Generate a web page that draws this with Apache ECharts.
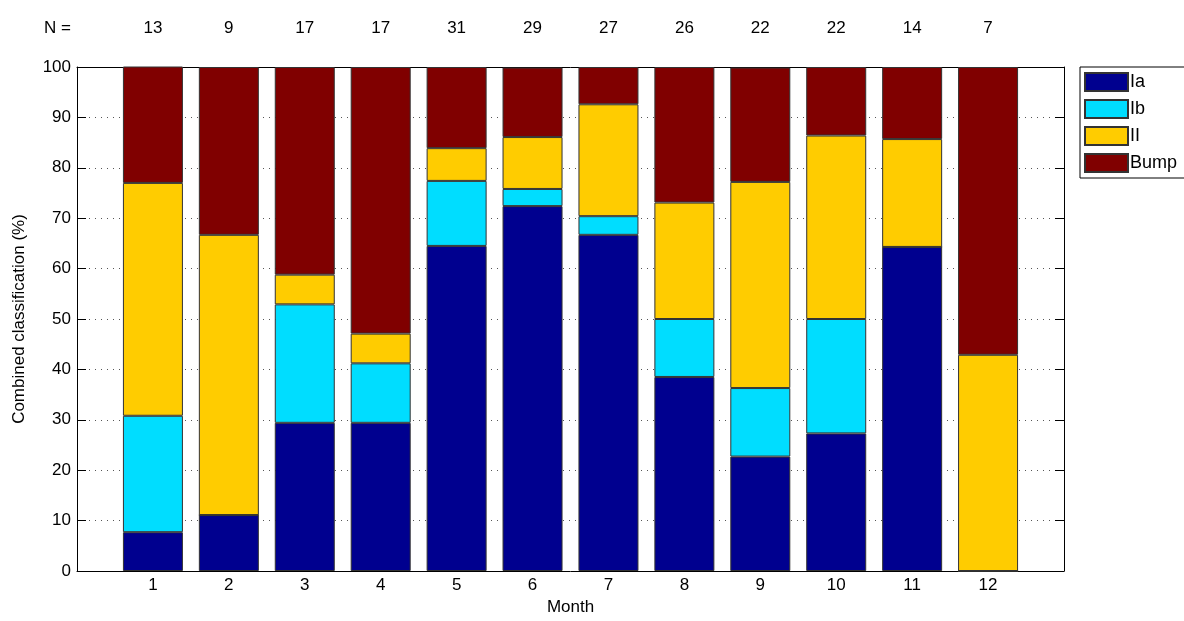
<!DOCTYPE html>
<html>
<head>
<meta charset="utf-8">
<script src="https://cdn.jsdelivr.net/npm/echarts@6/dist/echarts.min.js"></script>
<style>html,body{margin:0;padding:0;background:#fff;overflow:hidden;}#c{width:1184px;height:621px;}</style>
</head>
<body>
<div id="c"></div>
<script>
const months = [1,2,3,4,5,6,7,8,9,10,11,12];
const nCounts = [13,9,17,17,31,29,27,26,22,22,14,7];
const seriesNames = ['Ia','Ib','II','Bump'];
const ia   = [7.7, 11.1, 29.4, 29.4, 64.5, 72.4, 66.7, 38.5, 22.7, 27.3, 64.3, 0];
const ib   = [23.1, 0, 23.5, 11.8, 12.9, 3.4, 3.7, 11.5, 13.6, 22.7, 0, 0];
const ii   = [46.2, 55.6, 5.9, 5.9, 6.5, 10.3, 22.2, 23.1, 40.9, 36.4, 21.4, 42.9];
const bump = [23.1, 33.3, 41.2, 52.9, 16.1, 13.8, 7.4, 26.9, 22.7, 13.6, 14.3, 57.1];
const colors = ['#00008F','#00DDFF','#FFCC00','#800000'];
const yTicks = [0,10,20,30,40,50,60,70,80,90,100];

const values = [ia, ib, ii, bump];
const FONT = 'Liberation Sans, Arial, sans-serif';

// pad with an empty slot at each end so the axis runs from 0 to 13
const cats = [''].concat(months.map(String), ['']);
const topCats = [''].concat(nCounts.map(String), ['']);

const chart = echarts.init(document.getElementById('c'), null, {renderer:'canvas'});
const series = seriesNames.map((name, i) => ({
  name: name,
  type: 'bar',
  stack: 'total',
  barWidth: 60,
  xAxisIndex: 0,
  data: [null].concat(values[i], [null]),
  itemStyle: {color: colors[i], borderColor: '#333', borderWidth: 1},
  emphasis: {disabled: true},
  z: 3
}));

chart.setOption({
  animation: false,
  textStyle: {fontFamily: FONT},
  grid: {left: 77, right: 120, top: 67, bottom: 46, containLabel: false},
  graphic: [{
    type: 'text', left: 44, top: 20,
    style: {text: 'N =', fontSize: 17, fontFamily: FONT, fill: '#000'}
  }],
  legend: {
    orient: 'vertical',
    left: 1080, top: 67,
    icon: 'rect',
    itemWidth: 43, itemHeight: 18, itemGap: 7,
    padding: [5, 20, 5, 4],
    borderColor: '#000', borderWidth: 1,
    textStyle: {fontSize: 18, color: '#000', fontFamily: FONT, padding: [0,0,0,-3]},
    data: seriesNames,
    selectedMode: false
  },
  xAxis: [{
    type: 'category', data: cats, boundaryGap: false,
    position: 'bottom',
    name: 'Month', nameLocation: 'middle', nameGap: 28,
    nameTextStyle: {fontSize: 17, color: '#000', fontFamily: FONT},
    axisLine: {show: true, onZero: false, lineStyle: {color: '#000', width: 1}},
    axisTick: {show: false},
    axisLabel: {fontSize: 17, color: '#000', margin: 6, interval: 0, fontFamily: FONT},
    splitLine: {show: false}
  }, {
    type: 'category', data: topCats, boundaryGap: false,
    position: 'top',
    axisLine: {show: true, onZero: false, lineStyle: {color: '#000', width: 1}},
    axisTick: {show: false},
    axisLabel: {fontSize: 17, color: '#000', margin: 30, interval: 0, fontFamily: FONT},
    splitLine: {show: false}
  }],
  yAxis: [{
    type: 'value', min: yTicks[0], max: yTicks[yTicks.length-1], interval: 10,
    name: 'Combined classification (%)', nameLocation: 'middle', nameGap: 49,
    nameTextStyle: {fontSize: 17, color: '#000', fontFamily: FONT},
    axisLine: {show: true, lineStyle: {color: '#000', width: 1}},
    axisTick: {show: true, inside: true, length: 9, lineStyle: {color: '#000'}},
    axisLabel: {fontSize: 17, color: '#000', margin: 6, fontFamily: FONT},
    splitLine: {show: true, lineStyle: {color: '#555', type: [1, 5], width: 1}}
  }, {
    type: 'value', min: yTicks[0], max: yTicks[yTicks.length-1], interval: 10,
    position: 'right',
    axisLine: {show: true, lineStyle: {color: '#000', width: 1}},
    axisTick: {show: true, inside: true, length: 9, lineStyle: {color: '#000'}},
    axisLabel: {show: false},
    splitLine: {show: false}
  }],
  series: series
});
</script>
</body>
</html>
